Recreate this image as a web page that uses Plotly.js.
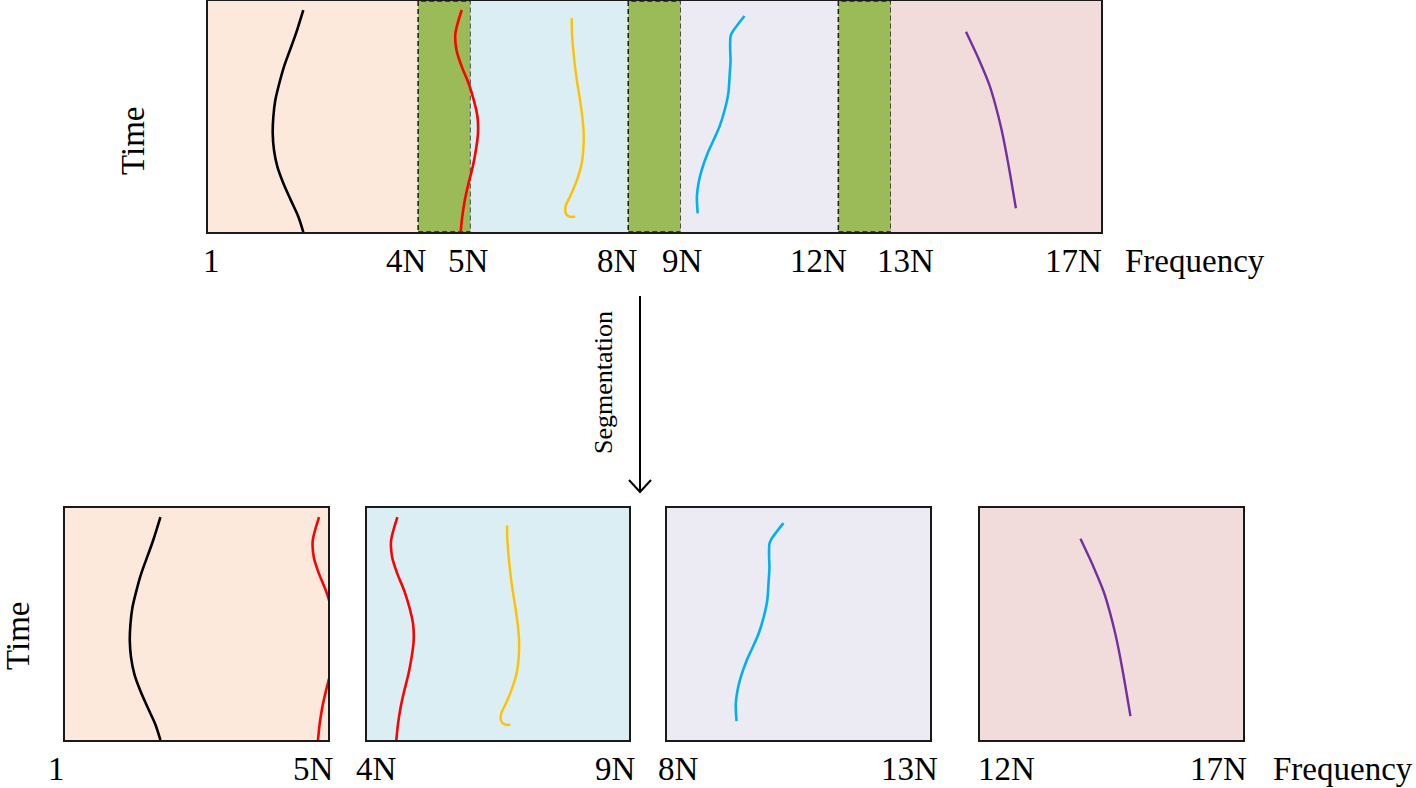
<!DOCTYPE html>
<html><head><meta charset="utf-8">
<script src="https://cdn.plot.ly/plotly-3.0.1.min.js"></script>
<style>html,body{margin:0;padding:0;background:#fff}#chart{width:1416px;height:788px}</style>
</head><body><div id="chart"></div>
<script>
// ---- data (frequency in units of N, time in % of window) ----
const blackF = [1.814,1.675,1.561,1.447,1.358,1.282,1.244,1.232,1.256,1.320,1.434,1.574,1.720,1.814];
const blackT = [96.1,86.0,78.8,71.6,64.4,57.1,49.9,42.7,35.5,28.3,21.1,13.9,6.6,0];
const redF = [4.83,4.71,4.73,4.83,4.96,5.06,5.13,5.14,5.10,5.04,4.96,4.89,4.84,4.81];
const redT = [96.1,86.0,78.8,71.6,64.4,57.1,49.9,42.7,35.5,28.3,21.1,13.9,6.6,0];
const yellowF = [6.924,6.929,6.954,6.987,7.031,7.082,7.126,7.152,7.145,7.101,7.000,6.891,6.815,6.800,6.830,6.891,6.987];
const yellowT = [92.5,86.0,78.8,71.6,64.4,57.1,49.9,42.7,35.5,28.3,21.1,15.3,11.7,9.2,7.4,6.6,6.6];
const cyanF = [10.213,9.987,9.948,9.941,9.948,9.933,9.905,9.836,9.737,9.625,9.511,9.398,9.338,9.307,9.322];
const cyanT = [93.5,86.7,84.6,78.8,74.5,68.7,60.0,52.8,45.6,39.8,34.1,26.8,21.1,15.3,8.1];
const purpleF = [14.43,14.68,14.87,14.99,15.10,15.19,15.27,15.33,15.38];
const purpleT = [86.7,74.5,64.0,55.0,45.0,35.0,25.0,17.0,10.3];

const bandEdges = [0,4,5,8,9,12,13,17];
const topTickVals = [0,4,5,8,9,12,13,17];
const topTickText = ['1','4N','5N','8N','9N','12N','13N','17N'];
const segLeftText = ['1','4N','8N','12N'];
const segRightText = ['5N','9N','13N','17N'];
const segViewStart = [0,4.25,8,12.52];
const segSpan = 5;

// ---- styles / layout ----
const W = 1416, H = 788;
const px = v => v / W, py = v => (H - v) / H;
const GREEN = '#9BBB59';
const bandColors = ['#FCE9DB',GREEN,'#DAEEF3',GREEN,'#ECEAF2',GREEN,'#F2DCDB'];
const segColors = ['#FCE9DB','#DAEEF3','#ECEAF2','#F2DCDB'];
const curves = [
  {f: blackF, t: blackT, c: '#000000', w: 2.6},
  {f: redF, t: redT, c: '#FF0000', w: 2.6},
  {f: yellowF, t: yellowT, c: '#FFC000', w: 2.4},
  {f: cyanF, t: cyanT, c: '#00B0F0', w: 2.6},
  {f: purpleF, t: purpleT, c: '#7030A0', w: 2.4}
];
const topLabelShift = [3,-12,-2,-11,2,-20,15,-28];
const segLeftShift = [-9,9,11,26];
const segRightShift = [-15,-14,-21,-25];
const segPx = [[65,328],[367,629],[667,930],[980,1243]];
const FONT = 'Liberation Serif';

const traces = [];
const axisNames = ['', '2', '3', '4', '5'];
axisNames.forEach(n => {
  curves.forEach(cv => {
    traces.push({
      type: 'scatter', mode: 'lines', x: cv.f, y: cv.t,
      xaxis: 'x' + n, yaxis: 'y' + n,
      line: {color: cv.c, width: cv.w, shape: 'spline', smoothing: 0.8},
      hoverinfo: 'skip', showlegend: false
    });
  });
});

const axBase = {showgrid: false, zeroline: false, showticklabels: false, ticks: '',
  showline: true, mirror: true, linecolor: '#1a1a1a', linewidth: 1.6, fixedrange: true};

const layout = {
  width: W, height: H, autosize: false,
  margin: {l: 0, r: 0, t: 0, b: 0, pad: 0},
  paper_bgcolor: '#ffffff', plot_bgcolor: 'rgba(0,0,0,0)',
  showlegend: false,
  xaxis: Object.assign({}, axBase, {domain: [px(208), px(1101)], range: [bandEdges[0], bandEdges[bandEdges.length-1]], anchor: 'y'}),
  yaxis: Object.assign({}, axBase, {domain: [py(232), py(1)], range: [0, 100], anchor: 'x'}),
  shapes: [], annotations: []
};

segPx.forEach((p, i) => {
  const n = axisNames[i + 1];
  layout['xaxis' + n] = Object.assign({}, axBase, {domain: [px(p[0]), px(p[1])], range: [segViewStart[i], segViewStart[i] + segSpan], anchor: 'y' + n});
  layout['yaxis' + n] = Object.assign({}, axBase, {domain: [py(740), py(508)], range: [0, 100], anchor: 'x' + n});
  layout.shapes.push({type: 'rect', xref: 'x' + n + ' domain', yref: 'y' + n + ' domain', x0: 0, x1: 1, y0: 0, y1: 1,
    fillcolor: segColors[i], line: {width: 0}, layer: 'below'});
  layout.annotations.push({xref: 'x' + n + ' domain', yref: 'paper', x: 0, y: py(769), xanchor: 'center', yanchor: 'middle',
    xshift: segLeftShift[i], text: segLeftText[i], showarrow: false, font: {family: FONT, size: 33, color: '#000'}});
  layout.annotations.push({xref: 'x' + n + ' domain', yref: 'paper', x: 1, y: py(769), xanchor: 'center', yanchor: 'middle',
    xshift: segRightShift[i], text: segRightText[i], showarrow: false, font: {family: FONT, size: 33, color: '#000'}});
});

// top bands
for (let i = 0; i < bandEdges.length - 1; i++) {
  const green = bandColors[i] === GREEN;
  layout.shapes.push({type: 'rect', xref: 'x', yref: 'y domain', x0: bandEdges[i], x1: bandEdges[i+1], y0: 0, y1: 1,
    fillcolor: bandColors[i], layer: 'below',
    line: green ? {color: '#1a1a1a', width: 1.5, dash: '5px,3px'} : {width: 0}});
}
// top tick labels
topTickVals.forEach((v, i) => {
  layout.annotations.push({xref: 'x', yref: 'paper', x: v, y: py(261), xanchor: 'center', yanchor: 'middle',
    xshift: topLabelShift[i], text: topTickText[i], showarrow: false, font: {family: FONT, size: 33, color: '#000'}});
});
const txt = (text, x, y, size, angle) => ({xref: 'paper', yref: 'paper', x: px(x), y: py(y), xanchor: 'center', yanchor: 'middle',
  text: text, showarrow: false, textangle: angle || 0, font: {family: FONT, size: size, color: '#000'}});
layout.annotations.push(txt('Frequency', 1195, 261, 33));
layout.annotations.push(txt('Frequency', 1343, 769, 33));
layout.annotations.push(txt('Time', 133, 141, 33, -90));
layout.annotations.push(txt('Time', 18, 636, 33, -90));
layout.annotations.push(txt('Segmentation', 603, 383, 26, -90));

// arrow
layout.shapes.push({type: 'line', xref: 'paper', yref: 'paper', x0: px(640), x1: px(640), y0: py(296), y1: py(491),
  line: {color: '#000', width: 2}});
layout.shapes.push({type: 'path', xref: 'paper', yref: 'paper',
  path: `M ${px(629)} ${py(480)} L ${px(640)} ${py(492)} L ${px(651)} ${py(480)}`,
  line: {color: '#000', width: 2}});

Plotly.newPlot('chart', traces, layout, {staticPlot: true, displayModeBar: false});
</script>
</body></html>
